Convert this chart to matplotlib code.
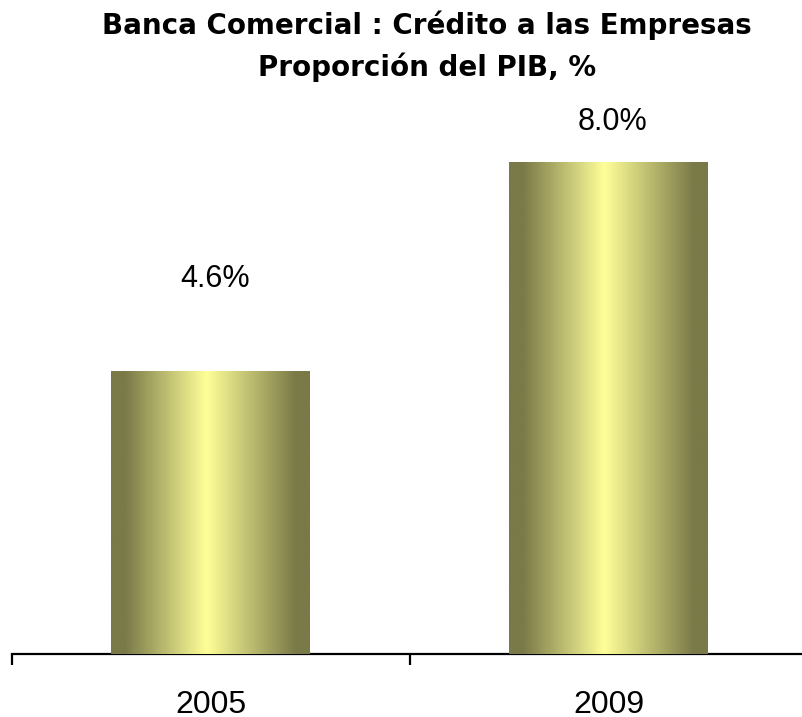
import numpy as np
import matplotlib
matplotlib.use("Agg")
import matplotlib.pyplot as plt
import matplotlib.transforms as mtransforms
from matplotlib.colors import LinearSegmentedColormap

years = ["2005", "2009"]
values = [4.6, 8.0]
value_labels = ["4.6%", "8.0%"]

W, H = 803, 717
fig = plt.figure(figsize=(W / 100, H / 100), dpi=100)
ax = fig.add_axes([12 / W, 63 / H, 796 / W, 554 / H])

x = np.arange(len(years))
bars = ax.bar(x, values, width=0.5, color="#FFFF99", edgecolor="none", zorder=2)

# olive -> pale yellow -> olive gradient across each bar
olive = "#7A7A48"
bright = "#FFFF99"
cmap = LinearSegmentedColormap.from_list(
    "barfade", [(0, olive), (0.07, olive), (0.48, bright), (0.93, olive), (1, olive)])
grad = np.linspace(0, 1, 256).reshape(1, -1)
for b in bars:
    x0, w, h = b.get_x(), b.get_width(), b.get_height()
    im = ax.imshow(grad, cmap=cmap, aspect="auto", extent=[x0, x0 + w, 0, h],
                   interpolation="bicubic", zorder=3)
    im.set_clip_path(b)

# value labels sit at different heights above the bars (as in the original)
label_gap = [1.36, 0.52]
for xi, v, lab, g in zip(x, values, value_labels, label_gap):
    ax.text(xi + 0.01, v + g, lab, ha="center", va="baseline", fontsize=22,
            family="Liberation Sans")

ax.set_xlim(-0.5, 1.5)
ax.set_ylim(0, 9)
for s in ["left", "right", "top"]:
    ax.spines[s].set_visible(False)
ax.spines["bottom"].set_linewidth(1.6)
ax.set_yticks([])
ax.set_xticks([-0.5, 0.5, 1.5])
ax.set_xticklabels([])
ax.tick_params(axis="x", length=8, width=1.6, direction="out")

# category labels near the bottom edge
trans = mtransforms.blended_transform_factory(ax.transData, fig.transFigure)
for xi, yr in zip(x, years):
    ax.text(xi, 1 - 713 / H, yr, transform=trans, ha="center", va="baseline",
            fontsize=23, family="Liberation Sans", clip_on=False)

fig.text(427 / W, 1 - 34 / H, "Banca Comercial : Crédito a las Empresas", ha="center",
         va="baseline", fontsize=20, fontweight="bold", family="DejaVu Sans")
fig.text(427 / W, 1 - 76 / H, "Proporción del PIB, %", ha="center", va="baseline",
         fontsize=20, fontweight="bold", family="DejaVu Sans")

fig.savefig("out.png", dpi=100)
